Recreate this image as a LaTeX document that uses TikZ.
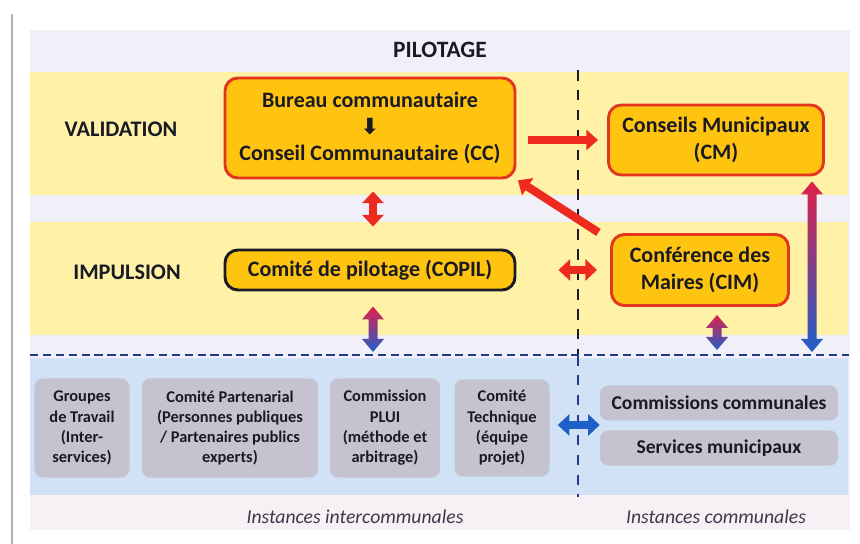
\documentclass[tikz,border=0pt]{standalone}
\usepackage{fontspec}
\setmainfont{Carlito}
\newfontfamily\symfont{DejaVu Sans}
\usepackage{tikz}
\usetikzlibrary{
  arrows.meta,
  positioning,
  calc
}
\definecolor{lavbg}{HTML}{F1EFF8}
\definecolor{yelband}{HTML}{FFF2A6}
\definecolor{bluband}{HTML}{D1E1F6}
\definecolor{pinkbg}{HTML}{F7F1F5}
\definecolor{boxfill}{HTML}{FFC410}
\definecolor{boxred}{HTML}{E2361E}
\definecolor{grybox}{HTML}{C6C3D0}
\definecolor{arred}{HTML}{EE2A1E}
\definecolor{arblue}{HTML}{1F5FC8}
\definecolor{gradtop}{HTML}{E0204A}
\definecolor{navy}{HTML}{1F3C8A}
\definecolor{txt}{HTML}{1A1A24}
\definecolor{itxt}{HTML}{3A3A4C}

% shaded double arrow, vertical, from #1 (top) to #2 (bottom)
\newcommand{\gradarrow}[2]{%
  \shade[top color=gradtop, bottom color=arblue]
    (#1) -- ++(11,13) -- ++(-6.5,0) -- ($(#2)+(4.5,-13)$) -- ++(6.5,0) -- (#2)
    -- ++(-11,-13) -- ++(6.5,0) -- ($(#1)+(-4.5,13)$) -- ++(-6.5,0) -- cycle;}

\begin{document}
\begin{tikzpicture}[x=0.03cm, y=-0.03cm,
			hd/.style={font=\fontsize{19}{22}\selectfont\bfseries, text=txt},
			bx/.style={draw=boxred, line width=2.5pt, fill=boxfill, rounded corners=11pt,
				align=center, inner sep=2pt, text=txt,
				font=\fontsize{18.8}{22.5}\selectfont\bfseries},
			gb/.style={fill=grybox, rounded corners=7pt, align=center, inner sep=1pt,
				text=txt, font=\fontsize{14}{17.3}\selectfont\bfseries},
			gbw/.style={gb, font=\fontsize{16.7}{19}\selectfont\bfseries},
			it/.style={font=\fontsize{16.8}{19}\selectfont\itshape, text=itxt},
			rarr/.style={arred, line width=7pt, -{Triangle[width=17pt,length=10pt]}},
			rdbl/.style={arred, line width=6pt, {Triangle[width=18pt,length=10pt]}-{Triangle[width=18pt,length=10pt]}},
			bdbl/.style={arblue, line width=6pt, {Triangle[width=18pt,length=10pt]}-{Triangle[width=18pt,length=10pt]}},
			sep/.style={line width=2pt, dash pattern=on 9pt off 8pt}
			]
			\useasboundingbox (0,0) rectangle (860,544);
			% bands
			\fill[lavbg] (30,30) rectangle (850,530);
			\fill[yelband] (30,72) rectangle (848,195);
			\fill[yelband] (30,222) rectangle (848,335);
			\fill[bluband] (30,358) rectangle (848,495);
			\fill[pinkbg] (30,495) rectangle (850,530);
			\draw[gray!60, line width=1.2pt] (12,14) -- (12,544);

			\node[hd, font=\fontsize{20}{22}\selectfont\bfseries] (pilot) at (440,50) {PILOTAGE};
			\node[hd] (valid) at (121,129) {VALIDATION};
			\node[hd] (impul) at (127,272) {IMPULSION};

			\node[bx, minimum width=8.7cm, minimum height=3.0cm] (cc) at (370,128)
			{Bureau communautaire\\ {\symfont\fontsize{19}{19}\selectfont ⬇}\\ Conseil Communautaire (CC)};
			\node[bx, minimum width=6.45cm, minimum height=2.1cm] (cm) at (716,140)
			{Conseils Municipaux\\ (CM)};
			\node[bx, draw=txt, minimum width=8.7cm, minimum height=1.2cm] (copil) at (370,270)
			{Comité de pilotage (COPIL)};
			\node[bx, minimum width=5.31cm, minimum height=2.13cm] (cim) at (700,270)
			{Conférence des\\ Maires (CIM)};

			\node[gb, minimum width=2.85cm, minimum height=2.97cm] (gt) at (82,428)
			{Groupes\\ de Travail\\ (Inter-\\ services)};
			\node[gb, minimum width=5.28cm, minimum height=2.97cm] (cp) at (230,428)
			{Comité Partenarial\\ (Personnes publiques\\ / Partenaires publics\\ experts)};
			\node[gb, minimum width=3.3cm, minimum height=2.97cm] (plui) at (385,428)
			{Commission\\ PLUI\\ (méthode et\\ arbitrage)};
			\node[gb, minimum width=2.85cm, minimum height=2.91cm] (ct) at (502,428)
			{Comité\\ Technique\\ (équipe\\ projet)};
			\node[gbw, minimum width=7.14cm, minimum height=1.05cm] (ccom) at (719,403)
			{Commissions communales};
			\node[gbw, minimum width=7.14cm, minimum height=1.05cm] (smun) at (719,448)
			{Services municipaux};

			\node[it] (iinter) at (355,517) {Instances intercommunales};
			\node[it] (icom) at (716,517) {Instances communales};

			% separators
			\coordinate (hl) at (30,355); \coordinate (hr) at (849,355);
			\coordinate (vt) at (578,70); \coordinate (vm) at (578,355); \coordinate (vb) at (578,497);
			\draw[sep, txt] (vt) -- (vm);
			\draw[sep, navy] (vm) -- (vb);
			\draw[navy, line width=2pt, dash pattern=on 7pt off 4pt] (hl) -- (hr);

			% links
			\draw[rarr, shorten <=0.36cm, shorten >=0.27cm] (cc.east |- cm.west) -- (cm.west);
			\draw[rarr, shorten <=0.2cm, shorten >=0.05cm] ($(cim.north west)+(-6,3)$) -- (cc.south east);
			\draw[rdbl, shorten <=0.36cm, shorten >=0.66cm] ([xshift=0.09cm]cc.south) -- ([xshift=0.09cm]copil.north);
			\draw[rdbl, shorten <=1.26cm, shorten >=0.39cm] (copil.east) -- (cim.west);
			\draw[bdbl, shorten <=0.24cm, shorten >=0cm] ([yshift=0.09cm]ct.east) -- ([yshift=0.09cm]ct.east -| ccom.west);
			\coordinate (a1t) at ([xshift=0.09cm, yshift=-0.45cm]copil.south);
			\coordinate (a1b) at ($(hl -| a1t)+(0,-3)$);
			\coordinate (a2t) at ($(cim.south -| 717,0)+(0,8)$);
			\coordinate (a2b) at ($(hl -| a2t)+(0,-5)$);
			\coordinate (a3t) at ($(cm.south -| 812,0)+(0,5)$);
			\coordinate (a3b) at ($(hl -| a3t)+(0,-3)$);
			\gradarrow{a1t}{a1b}
			\gradarrow{a2t}{a2b}
			\gradarrow{a3t}{a3b}
	\end{tikzpicture}
\end{document}
